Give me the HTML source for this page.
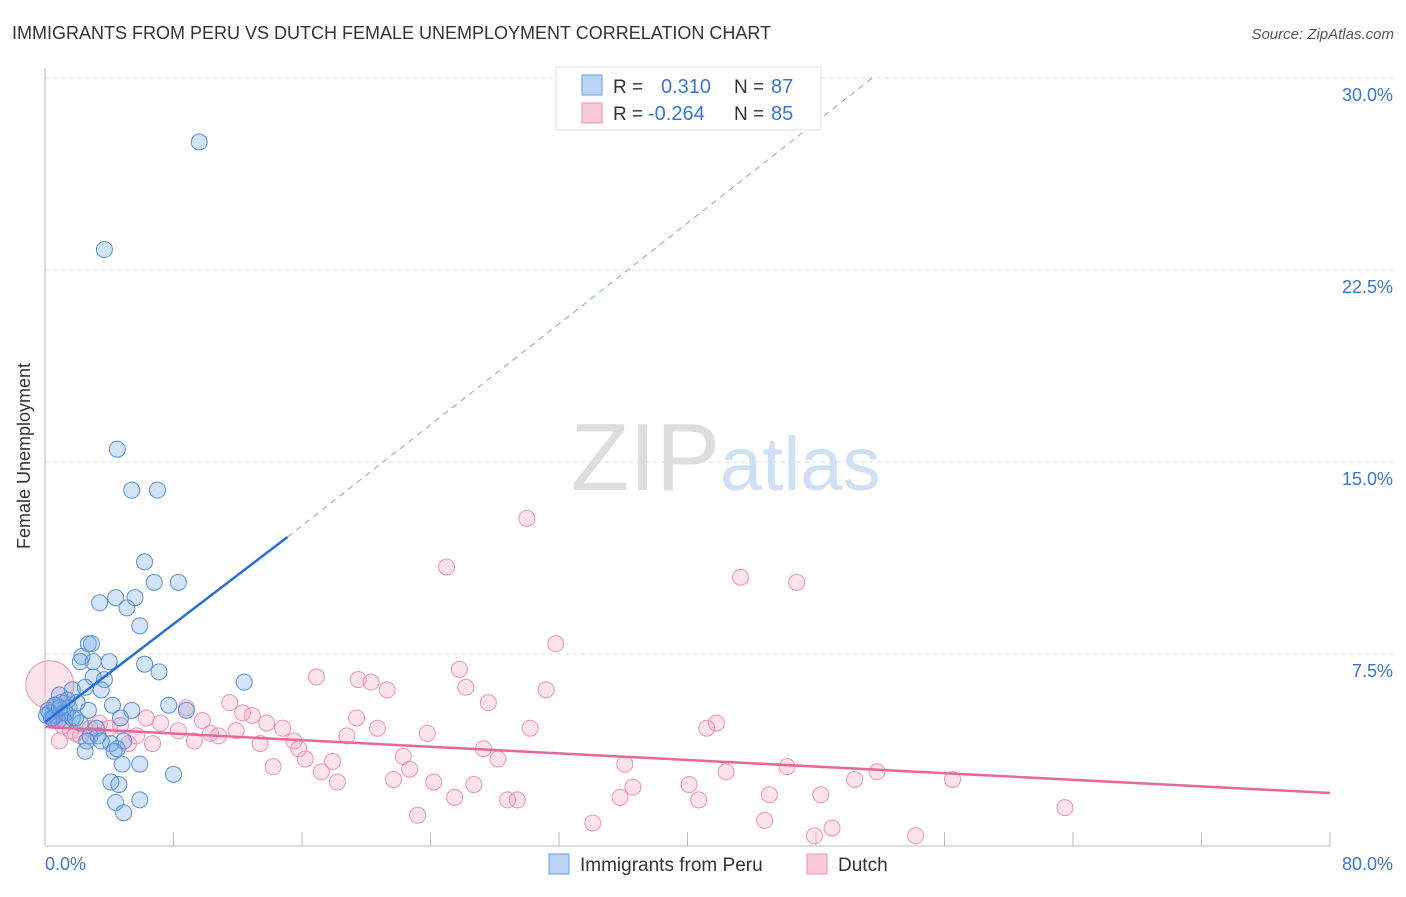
<!DOCTYPE html>
<html><head><meta charset="utf-8"><style>
body{margin:0;background:#fff;font-family:"Liberation Sans",sans-serif;}
svg text{font-family:"Liberation Sans",sans-serif;}
</style></head><body>
<svg width="1406" height="892" viewBox="0 0 1406 892">
<text x="12" y="39" font-size="18" fill="#333">IMMIGRANTS FROM PERU VS DUTCH FEMALE UNEMPLOYMENT CORRELATION CHART</text>
<text x="1394" y="39" font-size="15" fill="#555" font-style="italic" text-anchor="end">Source: ZipAtlas.com</text>
<text x="720" y="490" font-size="96" fill="#ddd" text-anchor="end" font-family="Liberation Serif">ZIP</text>
<text x="720" y="490" font-size="76" fill="#cfe0f3">atlas</text>
<g id="grid"></g>
<line x1="45" y1="68" x2="45" y2="846" stroke="#bbb"/>
<line x1="45" y1="846" x2="1330" y2="846" stroke="#bbb"/>
<text x="30" y="456" font-size="18" fill="#333" text-anchor="middle" transform="rotate(-90 30 456)">Female Unemployment</text>
<text x="45" y="870" font-size="18" fill="#3a75d0">0.0%</text>
<text x="1393" y="870" font-size="18" fill="#3a75d0" text-anchor="end">80.0%</text>
<g id="pts"></g>
<g id="lines"></g>
<g>
<rect x="556" y="67" width="265" height="63" fill="#fff" stroke="#ddd"/>
<rect x="582" y="75" width="20" height="20" fill="#bcd4f3" stroke="#6a9ee0"/>
<rect x="582" y="103" width="20" height="20" fill="#f9cbd9" stroke="#eb93b0"/>
<text x="613" y="93" font-size="19" fill="#333">R = </text><text x="661" y="93" font-size="20" fill="#3a75d0">0.310</text>
<text x="734" y="93" font-size="19" fill="#333">N = </text><text x="771" y="93" font-size="20" fill="#3a75d0">87</text>
<text x="613" y="120" font-size="19" fill="#333">R = </text><text x="648" y="120" font-size="20" fill="#3a75d0">-0.264</text>
<text x="734" y="120" font-size="19" fill="#333">N = </text><text x="771" y="120" font-size="20" fill="#3a75d0">85</text>
</g>
<g>
<rect x="549" y="854" width="20" height="20" fill="#bcd4f3" stroke="#6a9ee0"/>
<text x="580" y="871" font-size="19" fill="#333">Immigrants from Peru</text>
<rect x="807" y="854" width="20" height="20" fill="#f9cbd9" stroke="#eb93b0"/>
<text x="838" y="871" font-size="19" fill="#333">Dutch</text>
</g>
</svg>
<script>
const yTicks=[7.5,15,22.5,30];
const yTickLabels=["7.5%","15.0%","22.5%","30.0%"];
const xTicks=[0,8,16,24,32,40,48,56,64,72,80];
const blueX=[9.6,3.7,4.5,5.4,7.0,6.2,8.3,6.8,3.4,4.4,5.6,5.1,5.9,2.7,2.9,2.3,2.2,3.0,4.0,6.2,7.1,12.4,3.0,3.7,2.5,3.5,1.7,0.9,1.4,4.2,7.7,2.7,5.4,8.8,0.7,0.3,0.6,1.1,0.4,1.2,1.7,2.2,4.7,3.2,2.8,3.3,2.6,3.5,4.9,4.1,4.5,2.5,4.3,4.8,5.9,8.0,4.1,4.6,5.9,4.4,4.9,0.6,0.2,0.8,1.0,0.1,1.5,2.0,0.5,1.3,1.9,0.9];
const blueY=[27.5,23.3,15.5,13.9,13.9,11.1,10.3,10.3,9.5,9.7,9.7,9.3,8.6,7.9,7.9,7.4,7.2,7.2,7.2,7.1,6.8,6.4,6.6,6.5,6.2,6.1,6.1,5.9,5.7,5.5,5.5,5.3,5.3,5.3,5.5,5.2,5.1,5.2,5.0,4.9,5.0,4.8,5.0,4.6,4.3,4.3,4.1,4.1,4.1,4.0,3.8,3.7,3.7,3.2,3.2,2.8,2.5,2.4,1.8,1.7,1.3,5.5,5.3,4.9,5.6,5.1,5.4,5.6,5.0,5.2,5.0,5.4];
const pinkX=[30.0,25.0,43.3,46.8,31.8,25.8,16.9,19.5,20.3,26.2,31.2,21.3,27.6,11.5,8.8,12.3,12.9,19.4,6.3,9.8,7.2,13.8,41.8,30.2,20.7,41.2,14.8,8.3,10.3,11.9,10.8,23.8,5.7,18.8,9.3,15.5,6.7,13.4,15.8,27.3,16.2,22.3,28.2,17.9,14.2,36.1,22.7,17.2,42.4,51.8,46.2,21.7,24.2,26.7,18.2,40.1,50.4,56.5,36.6,25.5,29.4,28.8,35.8,45.1,48.3,40.7,63.5,23.2,34.1,44.8,49.0,47.9,54.2,0.3,0.6,1.1,1.6,2.2,2.8,0.9,3.4,4.0,4.7,5.2,1.9];
const pinkY=[12.8,10.9,10.5,10.3,7.9,6.9,6.6,6.5,6.4,6.2,6.1,6.1,5.6,5.6,5.4,5.2,5.1,5.0,5.0,4.9,4.8,4.8,4.8,4.6,4.6,4.6,4.6,4.5,4.4,4.5,4.3,4.4,4.3,4.3,4.1,4.1,4.0,4.0,3.8,3.8,3.4,3.5,3.4,3.3,3.1,3.2,3.0,2.9,2.9,2.9,3.1,2.6,2.5,2.4,2.5,2.4,2.6,2.6,2.3,1.9,1.8,1.8,1.9,2.0,2.0,1.8,1.5,1.2,0.9,1.0,0.7,0.4,0.4,6.3,4.9,4.7,4.5,4.3,4.6,4.1,4.8,4.6,4.7,4.0,4.4];
const blueLine=[0,4.84,15.1,12.07,51.5,30];
const pinkLine=[0,4.65,80,2.07];
const NS="http://www.w3.org/2000/svg";
const sx=v=>45+v*(1285/80), sy=v=>846-v*25.6;
function mk(tag,attrs,parent){const e=document.createElementNS(NS,tag);for(const k in attrs)e.setAttribute(k,attrs[k]);parent.appendChild(e);return e;}
const grid=document.getElementById('grid');
yTicks.forEach((t,i)=>{
 const l=mk('line',{x1:45,x2:1393,y1:sy(t),y2:sy(t),stroke:'#ddd','stroke-dasharray':'4,4'},grid);
 
 
 const tx=mk('text',{x:1393,y:sy(t)+23,'font-size':18,fill:'#3a75d0','text-anchor':'end'},grid);
 tx.textContent=yTickLabels[i];
 
 
});
xTicks.forEach(t=>{
 const l=mk('line',{x1:sx(t),x2:sx(t),y1:832,y2:846,stroke:'#bbb'},grid);
 
 
});
const pts=document.getElementById('pts');
pinkX.forEach((x,i)=>{
 const c=mk('circle',{cx:sx(x),cy:sy(pinkY[i]),r:i==73?24:8,fill:'rgba(244,160,188,0.3)',stroke:'#eb93b0','stroke-width':1},pts);
 
 
});
blueX.forEach((x,i)=>{
 const c=mk('circle',{cx:sx(x),cy:sy(blueY[i]),r:8,fill:'rgba(110,165,232,0.3)',stroke:'#5b8fd6','stroke-width':1},pts);
 
 
});
const lines=document.getElementById('lines');
let b=mk('line',{x1:sx(blueLine[0]),y1:sy(blueLine[1]),x2:sx(blueLine[2]),y2:sy(blueLine[3]),stroke:'#2a6fd6','stroke-width':2.5},lines);


let bd=mk('line',{x1:sx(blueLine[2]),y1:sy(blueLine[3]),x2:sx(blueLine[4]),y2:sy(blueLine[5]),stroke:'#7aa6e0','stroke-width':1,'stroke-dasharray':'6,5'},lines);


let p=mk('line',{x1:sx(pinkLine[0]),y1:sy(pinkLine[1]),x2:sx(pinkLine[2]),y2:sy(pinkLine[3]),stroke:'#e8679a','stroke-width':2.5},lines);


</script>
</body></html>
